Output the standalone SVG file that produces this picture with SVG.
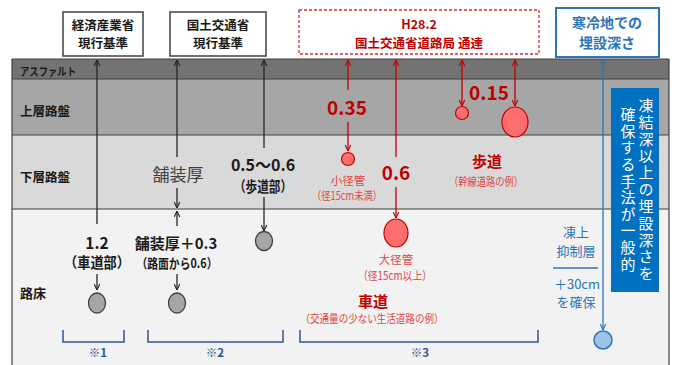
<svg xmlns="http://www.w3.org/2000/svg" width="676" height="365" viewBox="0 0 676 365">
<style>
text{font-family:"Noto Sans CJK JP","Noto Sans",sans-serif;text-anchor:middle}
.b{font-weight:bold}
.k{fill:#1a1a1a}
.r{fill:#c00000}
.rl{fill:#e04848}
.bl{fill:#2e75b6}
.lk{stroke:#262626;stroke-width:1.3;fill:none}
.lr{stroke:#c00000;stroke-width:1.3;fill:none}
.lb{stroke:#2e75b6;stroke-width:1.3;fill:none}
.gc{fill:#a6a6a6;stroke:#404040;stroke-width:1.3}
.rc{fill:#ff6e6e;stroke:#c00000;stroke-width:1.2}
.br{stroke:#2f5597;stroke-width:1.5;fill:none}
.lay{stroke:#404040;stroke-width:1.2}
</style>
<defs>
<marker id="ak" viewBox="0 0 10 10" refX="9.5" refY="5" markerWidth="7" markerHeight="7" markerUnits="userSpaceOnUse" orient="auto-start-reverse"><path d="M1,1 L9.5,5 L1,9" fill="none" stroke="#262626" stroke-width="1.6"/></marker>
<marker id="ar" viewBox="0 0 10 10" refX="9.5" refY="5" markerWidth="7" markerHeight="7" markerUnits="userSpaceOnUse" orient="auto-start-reverse"><path d="M1,1 L9.5,5 L1,9" fill="none" stroke="#c00000" stroke-width="1.6"/></marker>
<marker id="ab" viewBox="0 0 10 10" refX="9.5" refY="5" markerWidth="7" markerHeight="7" markerUnits="userSpaceOnUse" orient="auto-start-reverse"><path d="M1,1 L9.5,5 L1,9" fill="none" stroke="#2e75b6" stroke-width="1.6"/></marker>
</defs>
<rect width="676" height="365" fill="#ffffff"/>
<g id="layers">
<rect x="12" y="59" width="657" height="20" fill="#737373"/>
<rect x="12" y="79" width="657" height="56" fill="#a6a6a6"/>
<rect x="12" y="135" width="657" height="74" fill="#d9d9d9"/>
<rect x="12" y="209" width="657" height="156" fill="#f2f2f2"/>
<line class="lay" x1="12" y1="59" x2="669" y2="59"/>
<line class="lay" x1="12" y1="79" x2="669" y2="79"/>
<line class="lay" x1="12" y1="135" x2="669" y2="135"/>
<line class="lay" x1="12" y1="209" x2="669" y2="209"/>
<line class="lay" x1="12" y1="59" x2="12" y2="365"/>
<line class="lay" x1="669" y1="59" x2="669" y2="365"/>
<text x="20" y="76" class="b k" font-size="11" style="text-anchor:start" textLength="56" lengthAdjust="spacingAndGlyphs">アスファルト</text>
<text x="20" y="116" class="b k" font-size="12.5" style="text-anchor:start">上層路盤</text>
<text x="20" y="182" class="b k" font-size="12.5" style="text-anchor:start">下層路盤</text>
<text x="20" y="298" class="b k" font-size="13" style="text-anchor:start">路床</text>
</g>
<g id="box-meti">
<rect x="63" y="12" width="80" height="44" fill="#ffffff" stroke="#404040" stroke-width="1.5"/>
<text x="103" y="30" class="b k" font-size="12.5">経済産業省</text>
<text x="103" y="48" class="b k" font-size="12.5">現行基準</text>
</g>
<g id="box-mlit">
<rect x="170" y="12" width="96" height="44" fill="#ffffff" stroke="#404040" stroke-width="1.5"/>
<text x="218" y="30" class="b k" font-size="12.5">国土交通省</text>
<text x="218" y="48" class="b k" font-size="12.5">現行基準</text>
</g>
<g id="box-h28">
<rect x="299" y="10" width="240" height="44" fill="#ffffff" stroke="#d03030" stroke-width="1.3" stroke-dasharray="3,2"/>
<text x="419" y="29" class="b r" font-size="12.5">H28.2</text>
<text x="419" y="48" class="b r" font-size="12.5">国土交通省道路局 通達</text>
</g>
<g id="box-cold">
<rect x="556" y="8" width="103" height="49" fill="#ffffff" stroke="#2e75b6" stroke-width="2"/>
<text x="607" y="28" class="b bl" font-size="14">寒冷地での</text>
<text x="607" y="48" class="b bl" font-size="14">埋設深さ</text>
</g>
<g id="box-note">
<rect x="611" y="88" width="48" height="204" fill="#0070c0"/>
<text x="646" y="98" font-size="15" fill="#ffffff" style="writing-mode:vertical-rl;text-anchor:start;letter-spacing:1.8px">凍結深以上の埋設深さを</text>
<text x="628" y="107" font-size="15" fill="#ffffff" style="writing-mode:vertical-rl;text-anchor:start;letter-spacing:1.6px">確保する手法が一般的</text>
</g>
<g id="connectors">
<line class="lk" x1="97" y1="224" x2="97" y2="60" marker-end="url(#ak)"/>
<line class="lk" x1="97" y1="274" x2="97" y2="290" marker-end="url(#ak)"/>
<line class="lk" x1="177" y1="157" x2="177" y2="60" marker-end="url(#ak)"/>
<line class="lk" x1="177" y1="188" x2="177" y2="208" marker-end="url(#ak)"/>
<line class="lk" x1="177" y1="226" x2="177" y2="211" marker-end="url(#ak)"/>
<line class="lk" x1="177" y1="274" x2="177" y2="290" marker-end="url(#ak)"/>
<line class="lk" x1="264" y1="148" x2="264" y2="60" marker-end="url(#ak)"/>
<line class="lk" x1="264" y1="197" x2="264" y2="231" marker-end="url(#ak)"/>
<line class="lr" x1="348" y1="90" x2="348" y2="60" marker-end="url(#ar)"/>
<line class="lr" x1="348" y1="122" x2="348" y2="151" marker-end="url(#ar)"/>
<line class="lr" x1="396" y1="157" x2="396" y2="60" marker-end="url(#ar)"/>
<line class="lr" x1="396" y1="187" x2="396" y2="218" marker-end="url(#ar)"/>
<line class="lr" x1="462" y1="60" x2="462" y2="106" marker-start="url(#ar)" marker-end="url(#ar)"/>
<line class="lr" x1="515" y1="60" x2="515" y2="106" marker-start="url(#ar)" marker-end="url(#ar)"/>
<line class="lb" x1="603" y1="59" x2="603" y2="330" marker-start="url(#ab)" marker-end="url(#ab)"/>
<line class="lb" x1="553" y1="268" x2="598" y2="268" stroke-width="2"/>
<path class="br" d="M63,330 V342 H124 V330"/>
<path class="br" d="M148,330 V342 H283 V330"/>
<path class="br" d="M300,330 V342 H538 V330"/>
</g>
<g id="meti-depth">
<text x="97" y="249" class="b k" font-size="15.5">1.2</text>
<text x="97" y="268" class="b k" font-size="14.5" textLength="66" lengthAdjust="spacingAndGlyphs">（車道部）</text>
<ellipse class="gc" cx="97" cy="303" rx="8.5" ry="10"/>
</g>
<g id="mlit-road">
<text x="178" y="181" font-size="17" fill="#404040">舗装厚</text>
<text x="176" y="249" class="b k" font-size="15">舗装厚＋0.3</text>
<text x="177" y="268" class="b k" font-size="13" textLength="81" lengthAdjust="spacingAndGlyphs">（路面から0.6）</text>
<ellipse class="gc" cx="177" cy="303" rx="8.5" ry="10"/>
</g>
<g id="mlit-walk">
<text x="263" y="171" class="b k" font-size="16">0.5～0.6</text>
<text x="263" y="192" class="b k" font-size="14.5" textLength="58" lengthAdjust="spacingAndGlyphs">（歩道部）</text>
<ellipse class="gc" cx="264" cy="241" rx="8.5" ry="9.5"/>
</g>
<g id="small-pipe-road">
<text x="347" y="115" class="b r" font-size="19">0.35</text>
<circle class="rc" cx="348" cy="159" r="6.5"/>
<text x="348" y="185" class="rl" font-size="11.5">小径管</text>
<text x="347" y="200" class="rl" font-size="11.5" textLength="70" lengthAdjust="spacingAndGlyphs">（径15cm未満）</text>
</g>
<g id="large-pipe-road">
<text x="396" y="180" class="b r" font-size="19">0.6</text>
<ellipse class="rc" cx="396" cy="233" rx="12" ry="14"/>
<text x="396" y="264" class="rl" font-size="11.5">大径管</text>
<text x="395" y="280" class="rl" font-size="11.5" textLength="74" lengthAdjust="spacingAndGlyphs">（径15cm以上）</text>
<text x="373" y="307" class="b r" font-size="15">車道</text>
<text x="372" y="323" class="rl" font-size="11" textLength="143" lengthAdjust="spacingAndGlyphs">（交通量の少ない生活道路の例）</text>
</g>
<g id="sidewalk-pipes">
<text x="489" y="100" class="b r" font-size="19">0.15</text>
<circle class="rc" cx="462" cy="113" r="6.5"/>
<ellipse class="rc" cx="515" cy="122" rx="13" ry="15"/>
<text x="487" y="167" class="b r" font-size="15">歩道</text>
<text x="486" y="186" class="rl" font-size="11.5" textLength="74" lengthAdjust="spacingAndGlyphs">（幹線道路の例）</text>
</g>
<g id="cold-pipe">
<text x="576" y="237" class="bl" font-size="13">凍上</text>
<text x="576" y="256" class="bl" font-size="13">抑制層</text>
<text x="577" y="289" class="bl" font-size="13">＋30cm</text>
<text x="576" y="307" class="bl" font-size="13">を確保</text>
<circle cx="603" cy="340" r="9" fill="#9dc3e6" stroke="#2e75b6" stroke-width="1.5"/>
</g>
<g id="notes">
<text x="98" y="357" class="b" font-size="11.5" fill="#2f5597">※1</text>
<text x="215" y="357" class="b" font-size="11.5" fill="#2f5597">※2</text>
<text x="420" y="357" class="b" font-size="11.5" fill="#2f5597">※3</text>
</g>
</svg>
